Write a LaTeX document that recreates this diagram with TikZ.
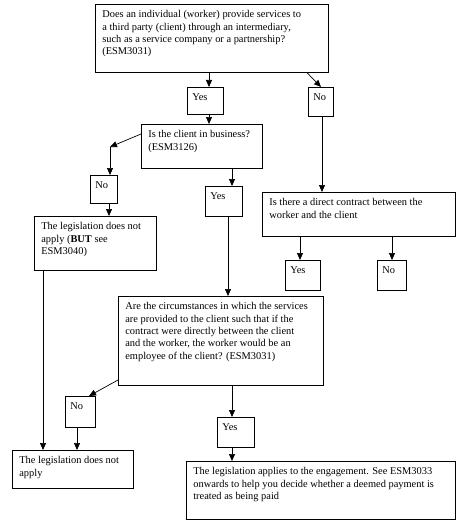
\documentclass[tikz,border=0pt]{standalone}
\usepackage{fontspec}
\setmainfont{Liberation Serif}
\usetikzlibrary{arrows.meta}
\newcommand{\bxt}[3]{\parbox[c][#2pt][t]{#1pt}{\raggedright\strut#3}}
\begin{document}
\begin{tikzpicture}[x=1pt,y=-1pt,
  bx/.style={draw=black, line width=0.7pt, anchor=north west, inner xsep=7pt, inner ysep=4.6pt,
    font=\fontsize{10.4}{12.4}\selectfont},
  sm/.style={bx, inner xsep=5pt},
  arr/.style={draw=black, line width=0.7pt, -{Triangle[length=7pt,width=6pt]}}]
\useasboundingbox (0,0) rectangle (460,524);
\node[bx] (q1) at (95,4) {\bxt{219}{58.8}{Does an individual (worker) provide services to\\a third party (client) through an intermediary,\\such as a service company or a partnership?\\(ESM3031)}};
\node[sm] (y1) at (187,87) {\bxt{26}{17.8}{Yes}};
\node[sm] (n1) at (308,87) {\bxt{15}{19.8}{No}};
\node[bx] (q2) at (141,124) {\bxt{107}{34.8}{Is the client in business?\\(ESM3126)}};
\node[sm] (n2) at (90,175) {\bxt{17}{18.8}{No}};
\node[bx] (l1) at (34,216) {\bxt{108}{44.8}{The legislation does not\\apply (\textbf{BUT} see\\ESM3040)}};
\node[sm] (y2) at (205,186) {\bxt{27}{20.8}{Yes}};
\node[bx] (q3) at (262,192) {\bxt{179}{34.8}{Is there a direct contract between the\\worker and the client}};
\node[sm] (y3) at (285,260) {\bxt{25}{20.8}{Yes}};
\node[sm] (n3) at (377,260) {\bxt{19}{20.8}{No}};
\node[bx] (q4) at (118,296) {\bxt{191}{79.8}{Are the circumstances in which the services\\are provided to the client such that if the\\contract were directly between the client\\and the worker, the worker would be an\\employee of the client? (ESM3031)}};
\node[sm] (n4) at (65,396) {\bxt{20}{21.8}{No}};
\node[bx] (l2) at (12,450) {\bxt{107}{28.8}{The legislation does not\\apply}};
\node[sm] (y4) at (217,417) {\bxt{27}{20.8}{Yes}};
\node[bx] (f) at (186,461) {\bxt{255}{48.8}{The legislation applies to the engagement. See ESM3033\\onwards to help you decide whether a deemed payment is\\treated as being paid}};
\coordinate (k1) at (110,147);
\draw[arr] (q1.south -| 209,0) -- (y1.north -| 209,0);
\draw[arr] (q1.south -| 307,0) -- (n1.north -| 321,0);
\draw[arr] (y1.south -| 209,0) -- (q2.north -| 209,0);
\draw[arr] (q2.west |- 0,134) -- (k1);
\draw[arr] (k1) -- (n2.north -| k1);
\draw[arr] (n2.south -| 109,0) -- (l1.north -| 109,0);
\draw[arr] (q2.south -| 232,0) -- (y2.north -| 232,0);
\draw[arr] (y2.south -| 228,0) -- (q4.north -| 228,0);
\draw[arr] (n1.south -| 322,0) -- (q3.north -| 322,0);
\draw[arr] (q3.south -| 300,0) -- (y3.north -| 300,0);
\draw[arr] (q3.south -| 392,0) -- (n3.north -| 392,0);
\draw[arr] (q4.west |- 0,380) -- (n4.north -| 89,0);
\draw[arr] (n4.south -| 77,0) -- (l2.north -| 77,0);
\draw[arr] (l1.south -| 43,0) -- (l2.north -| 43,0);
\draw[arr] (q4.south -| 232,0) -- (y4.north -| 232,0);
\draw[arr] (y4.south -| 232,0) -- (f.north -| 232,0);
\end{tikzpicture}
\end{document}
